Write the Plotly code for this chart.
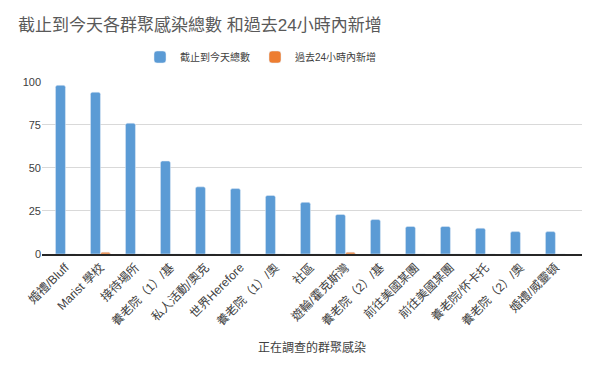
import plotly.graph_objects as go

categories = ["婚禮/Bluff", "Marist 學校", "接待場所", "養老院（1）/基", "私人活動/奧克",
              "世界Herefore", "養老院（1）/奧", "社區", "遊輪/霍克斯灣", "養老院（2）/基",
              "前往美國某團", "前往美國某團", "養老院/怀卡托", "養老院（2）/奧", "婚禮/威靈頓"]
total_to_date = [98, 94, 76, 54, 39, 38, 34, 30, 23, 20, 16, 16, 15, 13, 13]
new_24h = [0, 1, 0, 0, 0, 0, 0, 0, 1, 0, 0, 0, 0, 0, 0]
series_names = ["截止到今天總數", "過去24小時內新增"]
y_ticks = [0, 25, 50, 75, 100]

x_idx = list(range(len(categories)))
cjk = "Liberation Sans, Noto Sans CJK TC, sans-serif"

W, H = 600, 371
OFF = 8  # page body margin offset
L, R = 42 - OFF, W - (582 - OFF)
T, B = 81 - OFF, H - (254 - OFF)
plot_h = H - T - B

fig = go.Figure()
fig.add_trace(go.Bar(x=x_idx, y=total_to_date, name=series_names[0], marker_color="#5B9BD5"))
fig.add_trace(go.Bar(x=x_idx, y=new_24h, name=series_names[1], marker_color="#ED7D31"))

fig.update_layout(
    width=W, height=H,
    margin=dict(l=L, r=R, t=T, b=B, autoexpand=False),
    paper_bgcolor="white", plot_bgcolor="white",
    barmode="group", bargap=0.43, bargroupgap=0, barcornerradius=2,
    title=dict(text="截止到今天各群聚感染總數 和過去24小時內新增",
               font=dict(family=cjk, size=17, color="#595959"),
               x=(18 - OFF) / W, xanchor="left", xref="container",
               y=1 - (25 - OFF) / H, yanchor="middle", yref="container"),
    legend=dict(orientation="h", x=(140 - OFF) / W, xanchor="left", y=1 - (57 - OFF) / H, yanchor="middle",
                xref="container", yref="container",
                font=dict(family=cjk, size=10, color="#404040"),
                itemwidth=30, traceorder="normal"),
    font=dict(family=cjk, color="#404040"),
    xaxis=dict(tickmode="array", tickvals=x_idx, ticktext=categories, automargin=False,
               tickangle=-45, range=[-0.67, 14.76], showgrid=False,
               showline=True, linecolor="#262626", linewidth=1.5, ticks="",
               tickfont=dict(size=12, color="#404040")),
    yaxis=dict(range=[0, 100.5], tickvals=y_ticks, showgrid=True, gridcolor="#d9d9d9",
               automargin=False, zeroline=False, ticks="", tickfont=dict(size=11, color="#404040")),
    annotations=[dict(text="正在調查的群聚感染", xref="paper", x=0.5, xanchor="center",
                      yref="paper", y=-(347 - 254) / plot_h, yanchor="middle", showarrow=False,
                      font=dict(family=cjk, size=12, color="#404040"))],
)

fig.write_html("out.html")
